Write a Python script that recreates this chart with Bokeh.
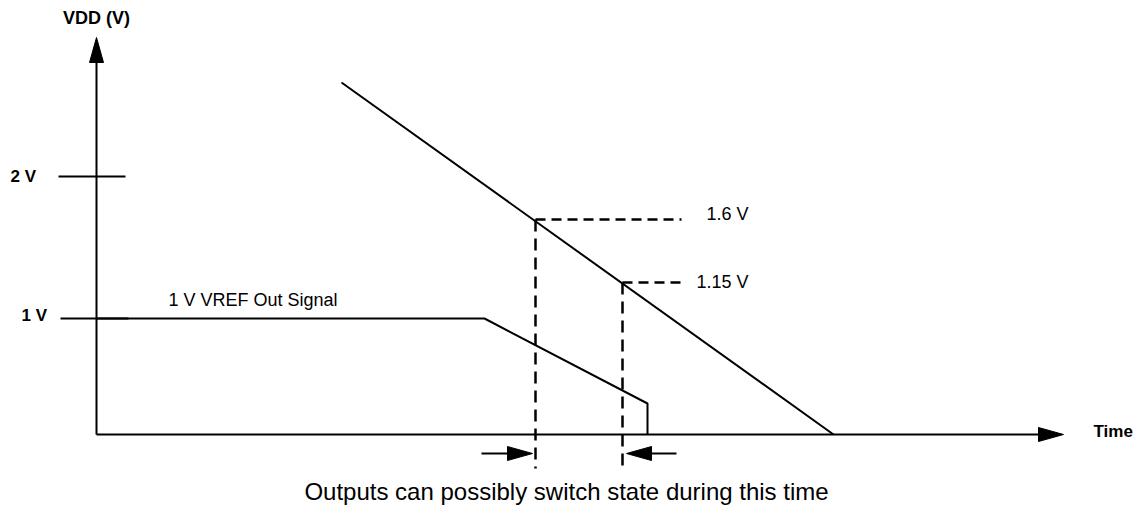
from bokeh.plotting import figure
from bokeh.models import Range1d
from bokeh.core.properties import value
from bokeh.embed import file_html
from bokeh.resources import INLINE

# ---- diagram data (schematic coordinates: time axis -> x, level -> y, y grows downward) ----
# supply ramp VDD falling
vdd_x = [341, 833]
vdd_y = [82, 434]

# 1 V VREF out signal
vref_x = [96, 484, 647, 647]
vref_y = [318, 318, 403, 434]

# y-axis ticks
tick_labels = ["2 V", "1 V"]
tick_y = [176, 318]
tick_x0 = [58, 60]
tick_x1 = [125, 128]
tick_label_x = [10, 21]
tick_label_y = [176, 315]

# threshold levels
thr_labels = ["1.6 V", "1.15 V"]
thr_y = [219, 282]
thr_x = [535, 622]
thr_end_x = [681, 681]
thr_label_x = [748, 748]
thr_label_y = [213, 281]
thr_bottom = 468

# axes
origin_x, origin_y = 96, 434
yaxis_tip = 37
xaxis_tip = 1063

# window arrows
win_y = 453
win_tail = [481, 676]
win_tip = [532, 626]

FONT = "Liberation Sans"

p = figure(width=1143, height=510, output_backend="svg", toolbar_location=None,
           x_range=Range1d(0, 1143), y_range=Range1d(510, 0),
           min_border=0, outline_line_color=None, background_fill_color="white")
p.axis.visible = False
p.grid.visible = False


def head(tx, ty, dx, dy, length=25, half=7):
    bx, by = tx - dx * length, ty - dy * length
    px, py = -dy, dx
    return [tx, bx + px * half, bx - px * half], [ty, by + py * half, by - py * half]


# axes lines
p.line([origin_x, origin_x], [origin_y, yaxis_tip + 20], line_color="black", line_width=2)
p.line([origin_x, xaxis_tip - 20], [origin_y, origin_y], line_color="black", line_width=2)
hx, hy = head(origin_x, yaxis_tip, 0, -1)
p.patch(hx, hy, color="black")
hx, hy = head(xaxis_tip, origin_y, 1, 0)
p.patch(hx, hy, color="black")

# ticks
p.segment(x0=tick_x0, y0=tick_y, x1=tick_x1, y1=tick_y, line_color="black", line_width=2)
p.text(x=tick_label_x, y=tick_label_y, text=tick_labels, text_font=value(FONT),
       text_font_style="bold", text_font_size="17px", text_baseline="middle", text_align="left")

# supply ramp
p.line(vdd_x, vdd_y, line_color="black", line_width=2)

# VREF
p.line(vref_x, vref_y, line_color="black", line_width=2)

# thresholds
p.segment(x0=thr_x, y0=thr_y, x1=thr_end_x, y1=thr_y, line_color="black",
          line_width=2.5, line_dash="10 6")
p.segment(x0=thr_x, y0=thr_y, x1=thr_x, y1=[thr_bottom] * len(thr_x), line_color="black",
          line_width=2.5, line_dash="12 7")
p.text(x=thr_label_x, y=thr_label_y, text=thr_labels, text_font=value(FONT),
       text_font_size="18px", text_baseline="middle", text_align="right")

# window arrows
for t0, t1 in zip(win_tail, win_tip):
    d = 1 if t1 > t0 else -1
    p.line([t0, t1 - d * 20], [win_y, win_y], line_color="black", line_width=2)
    hx, hy = head(t1, win_y, d, 0)
    p.patch(hx, hy, color="black")

# texts
p.text(x=[96], y=[17], text=["VDD (V)"], text_font=value(FONT), text_font_style="bold",
       text_font_size="18px", text_baseline="middle", text_align="center")
p.text(x=[1093], y=[431], text=["Time"], text_font=value(FONT), text_font_style="bold",
       text_font_size="17px", text_baseline="middle", text_align="left")
p.text(x=[168], y=[299], text=["1 V VREF Out Signal"], text_font=value(FONT),
       text_font_size="18px", text_baseline="middle", text_align="left")
p.text(x=[566], y=[491], text=["Outputs can possibly switch state during this time"],
       text_font=value(FONT), text_font_size="24px", text_baseline="middle", text_align="center")

open("out.html", "w").write(file_html(p, INLINE))
